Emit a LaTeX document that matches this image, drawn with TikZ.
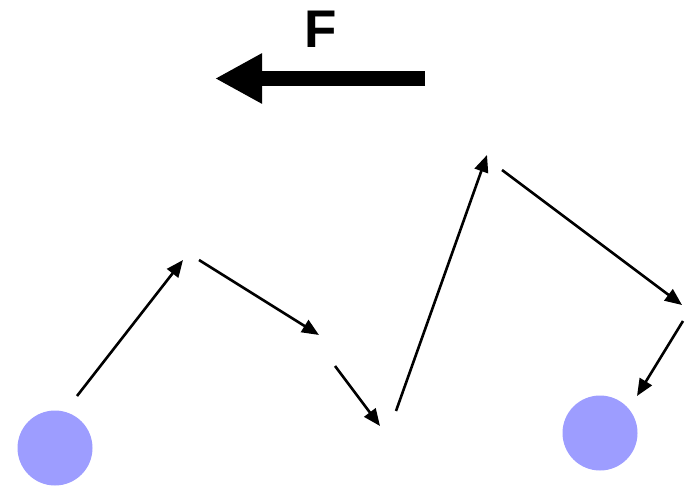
\documentclass[tikz,border=0pt]{standalone}
\usepackage{fontspec}
\setmainfont{Liberation Sans}
\usepackage{xcolor}
\usepackage{tikz}
\usetikzlibrary{arrows.meta}
\definecolor{ballblue}{RGB}{157,157,255}

\begin{document}
\begin{tikzpicture}[x=1pt, y=-1pt, ball/.style={circle, fill=ballblue, minimum size=75pt, inner sep=0pt}, hop/.style={-{Triangle[length=17pt, width=14pt]}, line width=2.6pt}, force/.style={-{Triangle[length=47pt, width=47pt]}, line width=15pt}]
\useasboundingbox (0,0) rectangle (692,486);
\node[ball] (start) at (55,448) {};
\node[ball] (finish) at (600,433) {};
% path of the particle
\coordinate (p0) at (77,396);
\coordinate (q0) at (183,260);
\draw[hop] (p0) -- (q0);
\coordinate (p1) at (199,260);
\coordinate (q1) at (319,335);
\draw[hop] (p1) -- (q1);
\coordinate (p2) at (335,366);
\coordinate (q2) at (380,426);
\draw[hop] (p2) -- (q2);
\coordinate (p3) at (396,411);
\coordinate (q3) at (487,155);
\draw[hop] (p3) -- (q3);
\coordinate (p4) at (502,170);
\coordinate (q4) at (682,305);
\draw[hop] (p4) -- (q4);
\coordinate (p5) at (683,321);
\coordinate (q5) at (637,396);
\draw[hop] (p5) -- (q5);
% applied force
\coordinate (ftail) at (425,78.5);
\coordinate (fhead) at (215,78.5);
\draw[force] (ftail) -- (fhead);
\node[font=\fontsize{53}{60}\selectfont\bfseries, inner sep=0pt, anchor=base] (flabel) at (321,48) {F};
\end{tikzpicture}
\end{document}
